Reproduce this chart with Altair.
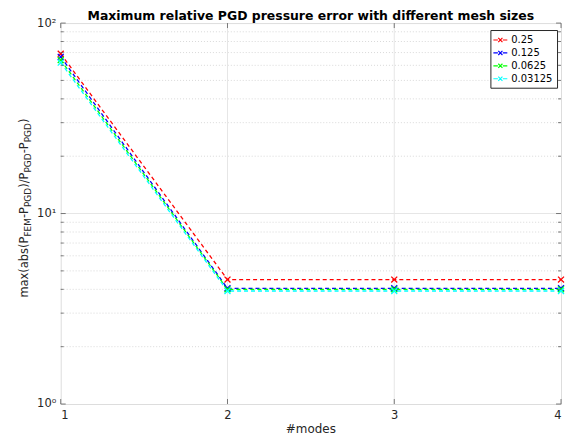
import altair as alt
import pandas as pd

# ---------------- data ----------------
modes = [1, 2, 3, 4]
series_labels = ["0.25", "0.125", "0.0625", "0.03125"]
err_025 = [69.0, 4.5, 4.5, 4.5]
err_0125 = [66.5, 4.05, 4.05, 4.05]
err_00625 = [64.0, 4.0, 4.0, 4.0]
err_003125 = [62.0, 3.92, 3.92, 3.92]
series_colors = ["#ff0000", "#0000ff", "#00ff00", "#00ffff"]

x_ticks = [1, 2, 3, 4]
y_major = [1, 10, 100]
y_major_labels = ["10⁰", "10¹", "10²"]
y_minor = [2, 3, 4, 5, 6, 7, 8, 9, 20, 30, 40, 50, 60, 70, 80, 90]

title_text = "Maximum relative PGD pressure error with different mesh sizes"
x_title = "#modes"
# y title pieces: (text, is_subscript)
y_title_parts = [("max(abs(P", False), ("FEM", True), ("-P", False), ("PGD", True),
                 (")/P", False), ("PGD", True), ("-P", False), ("PGD", True), (")", False)]

# ---------------- layout ----------------
W, H = 503, 383
FONT = "DejaVu Sans"
TXT = "#262626"
MAIN_FS, SUB_FS = 11.5, 9

rows = []
for lab, vals in zip(series_labels, [err_025, err_0125, err_00625, err_003125]):
    for m, v in zip(modes, vals):
        rows.append({"mode": m, "err": v, "size": lab})
df = pd.DataFrame(rows)

xscale = alt.Scale(domain=[1, 4], nice=False, zero=False)
yscale = alt.Scale(type="log", domain=[1, 100], nice=False)
cscale = alt.Scale(domain=series_labels, range=series_colors)

xmark_path = "M-1,-1L1,1M-1,1L1,-1"
legend_path = "M-1.4,0L-0.5,0M0.5,0L1.4,0M-0.42,-0.42L0.42,0.42M-0.42,0.42L0.42,-0.42"

label_expr = " : ".join(
    [f"datum.value == {v} ? '{l}'" for v, l in zip(y_major[:-1], y_major_labels[:-1])]
) + f" : '{y_major_labels[-1]}'"

# grid
minor_df = pd.DataFrame({"v": y_minor})
major_df = pd.DataFrame({"v": [10]})
xgrid_df = pd.DataFrame({"m": [2, 3]})

grid_minor = alt.Chart(minor_df).mark_rule(color="#d9d9d9", strokeDash=[1, 2], strokeWidth=1).encode(
    y=alt.Y("v:Q", scale=yscale), x=alt.value(0), x2=alt.value(W))
grid_major = alt.Chart(major_df).mark_rule(color="#e6e6e6", strokeWidth=1).encode(
    y=alt.Y("v:Q", scale=yscale), x=alt.value(0), x2=alt.value(W))
grid_x = alt.Chart(xgrid_df).mark_rule(color="#e6e6e6", strokeWidth=1).encode(
    x=alt.X("m:Q", scale=xscale), y=alt.value(0), y2=alt.value(H))

# ticks (inward, MATLAB style)
tick_col = "#595959"
yt_major_df = pd.DataFrame({"v": y_major})
yt_minor_df = pd.DataFrame({"v": y_minor})
xt_df = pd.DataFrame({"m": x_ticks})
ticks = [
    alt.Chart(yt_major_df).mark_rule(color=tick_col, strokeWidth=0.8).encode(
        y=alt.Y("v:Q", scale=yscale), x=alt.value(0), x2=alt.value(5)),
    alt.Chart(yt_major_df).mark_rule(color=tick_col, strokeWidth=0.8).encode(
        y=alt.Y("v:Q", scale=yscale), x=alt.value(W - 5), x2=alt.value(W)),
    alt.Chart(yt_minor_df).mark_rule(color=tick_col, strokeWidth=0.8).encode(
        y=alt.Y("v:Q", scale=yscale), x=alt.value(0), x2=alt.value(3)),
    alt.Chart(yt_minor_df).mark_rule(color=tick_col, strokeWidth=0.8).encode(
        y=alt.Y("v:Q", scale=yscale), x=alt.value(W - 3), x2=alt.value(W)),
    alt.Chart(xt_df).mark_rule(color=tick_col, strokeWidth=0.8).encode(
        x=alt.X("m:Q", scale=xscale), y=alt.value(H - 5), y2=alt.value(H)),
    alt.Chart(xt_df).mark_rule(color=tick_col, strokeWidth=0.8).encode(
        x=alt.X("m:Q", scale=xscale), y=alt.value(0), y2=alt.value(5)),
]

base = alt.Chart(df)
lines = base.mark_line(strokeDash=[4, 3], strokeWidth=1.3).encode(
    x=alt.X("mode:Q", scale=xscale,
            axis=alt.Axis(values=x_ticks, format="d", title=None, grid=False, ticks=False,
                          domain=False, labelPadding=6, labelFontSize=11.5,
                          labelColor=TXT, labelFont=FONT)),
    y=alt.Y("err:Q", scale=yscale,
            axis=alt.Axis(values=y_major, labelExpr=label_expr, title=None, grid=False,
                          ticks=False, domain=False, labelPadding=5, labelFontSize=11.5,
                          labelColor=TXT, labelFont=FONT)),
    color=alt.Color("size:N", scale=cscale, sort=series_labels,
                    legend=alt.Legend(title=None, orient="none", legendX=432, legendY=7,
                                      strokeColor="#262626", fillColor="white", padding=4,
                                      labelFontSize=10, labelFont=FONT, labelColor="#000000",
                                      symbolType=legend_path, symbolSize=100,
                                      symbolStrokeWidth=1.2, rowPadding=2,
                                      labelOffset=5, cornerRadius=0)),
    detail="size:N",
)
points = base.mark_point(shape=xmark_path, filled=False, size=36, strokeWidth=1.3, opacity=1).encode(
    x=alt.X("mode:Q", scale=xscale),
    y=alt.Y("err:Q", scale=yscale),
    color=alt.Color("size:N", scale=cscale, sort=series_labels),
)

# y title built from pieces so that subscripts are rendered
WIDTHS = {'m': 1995, 'a': 1255, 'x': 1212, '(': 799, ')': 799, 'b': 1300, 's': 1067,
          'P': 1235, 'F': 1178, 'E': 1294, 'M': 1767, 'G': 1589, 'D': 1577, '-': 739, '/': 690}
def text_w(t, fs):
    return sum(WIDTHS.get(c, 1200) for c in t) / 2048 * fs

total = sum(text_w(t, SUB_FS if s else MAIN_FS) for t, s in y_title_parts)
center_y = 186  # relative to plot top
cur = center_y + total / 2
ytitle_layers = []
for t, s in y_title_parts:
    fs = SUB_FS if s else MAIN_FS
    ytitle_layers.append(
        alt.Chart(alt.Data(values=[{}])).mark_text(
            text=t, fontSize=fs, angle=270, align="left", baseline="alphabetic",
            font=FONT, color=TXT
        ).encode(x=alt.value(-33 + (3 if s else 0)), y=alt.value(cur))
    )
    cur -= text_w(t, fs)

title_layer = alt.Chart(alt.Data(values=[{}])).mark_text(
    text=title_text, fontSize=12.5, fontWeight="bold", font=FONT, color="#000000",
    align="center", baseline="alphabetic"
).encode(x=alt.value(W / 2), y=alt.value(-3.5))

xtitle_layer = alt.Chart(alt.Data(values=[{}])).mark_text(
    text=x_title, fontSize=12, font=FONT, color=TXT, align="center", baseline="alphabetic"
).encode(x=alt.value(W / 2), y=alt.value(H + 29))

chart = alt.layer(grid_minor, grid_major, grid_x, lines, points, *ticks, *ytitle_layers,
                  title_layer, xtitle_layer).properties(
    width=W, height=H,
    autosize=alt.AutoSizeParams(type="none"),
    padding={"left": 53, "top": 14, "right": 4, "bottom": 30},
).configure_view(stroke="#8c8c8c", strokeWidth=1).configure(background="white", font=FONT)

chart.save("out.html", embed_options={"renderer": "svg", "actions": False})
